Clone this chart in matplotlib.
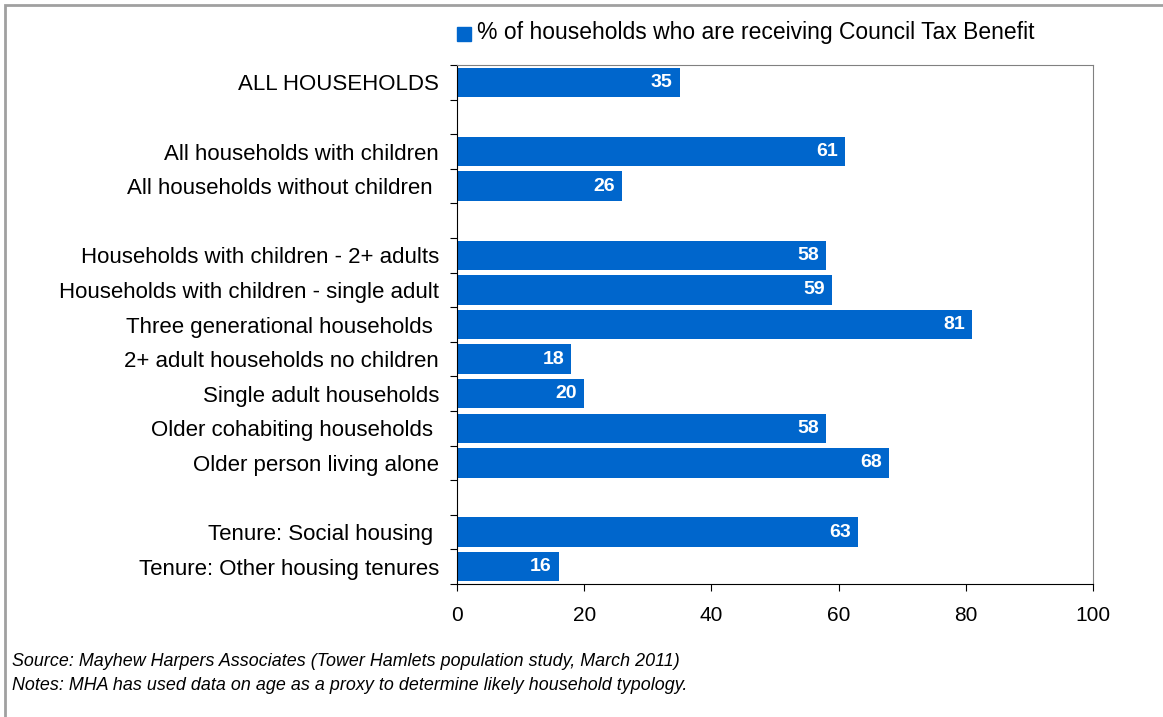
import numpy as np
import matplotlib
matplotlib.use("Agg")
from matplotlib import pyplot as plt
from matplotlib.patches import Rectangle

plt.rcParams['font.family'] = ['Liberation Sans', 'DejaVu Sans']

# Rows top to bottom; empty labels are the gap rows
categories = [
    "ALL HOUSEHOLDS",
    "",
    "All households with children",
    "All households without children ",
    "",
    "Households with children - 2+ adults",
    "Households with children - single adult",
    "Three generational households ",
    "2+ adult households no children",
    "Single adult households",
    "Older cohabiting households ",
    "Older person living alone",
    "",
    "Tenure: Social housing ",
    "Tenure: Other housing tenures",
]
values = [35, None, 61, 26, None, 58, 59, 81, 18, 20, 58, 68, None, 63, 16]
series_name = "% of households who are receiving Council Tax Benefit"
x_ticks = [0, 20, 40, 60, 80, 100]
source_note = "Source: Mayhew Harpers Associates (Tower Hamlets population study, March 2011)"
method_note = "Notes: MHA has used data on age as a proxy to determine likely household typology."

bar_color = "#0066CC"

fig = plt.figure(figsize=(11.63, 7.17), dpi=100)
ax = fig.add_axes([457 / 1163, 1 - 584 / 717, (1093 - 457) / 1163, (584 - 65) / 717])

n = len(categories)
ypos = np.arange(n)
for y, v in zip(ypos, values):
    if v is None:
        continue
    ax.barh(y, v, height=0.85, color=bar_color)
    ax.text(v - 1.1, y, str(v), ha="right", va="center", color="white",
            fontsize=14, fontweight="bold")

ax.set_ylim(n - 0.5, -0.5)
ax.set_xlim(0, 100)
ax.set_xticks(x_ticks)
ax.set_xticklabels([str(t) for t in x_ticks], fontsize=15)
ax.set_yticks(np.arange(n + 1) - 0.5)
ax.set_yticklabels([])
ax.set_yticks(ypos, minor=True)
ax.set_yticklabels(categories, minor=True, fontsize=16)
ax.tick_params(axis="y", which="minor", length=0, pad=13)
ax.tick_params(axis="y", which="major", length=5, direction="out")
ax.tick_params(axis="x", length=5, direction="out", pad=11)

for side in ["top", "right"]:
    ax.spines[side].set_color("#808080")
for side in ["left", "bottom"]:
    ax.spines[side].set_color("black")

# legend
fig.patches.append(Rectangle((457 / 1163, 1 - 41 / 717), 14 / 1163, 14 / 717,
                             transform=fig.transFigure, color=bar_color))
fig.text(477 / 1163, 1 - 33 / 717, series_name, fontsize=16.5, va="center")

fig.text(12 / 1163, 1 - 662 / 717, source_note, fontsize=12.9, style="italic", va="center")
fig.text(12 / 1163, 1 - 685 / 717, method_note, fontsize=12.9, style="italic", va="center")

# outer frame of the chart
fig.patches.append(Rectangle((5 / 1163, -0.05), 1.1, 1 - 5 / 717 + 0.05,
                             transform=fig.transFigure, fill=False,
                             edgecolor="#A0A0A0", linewidth=2))

fig.savefig("out.png", dpi=100)
